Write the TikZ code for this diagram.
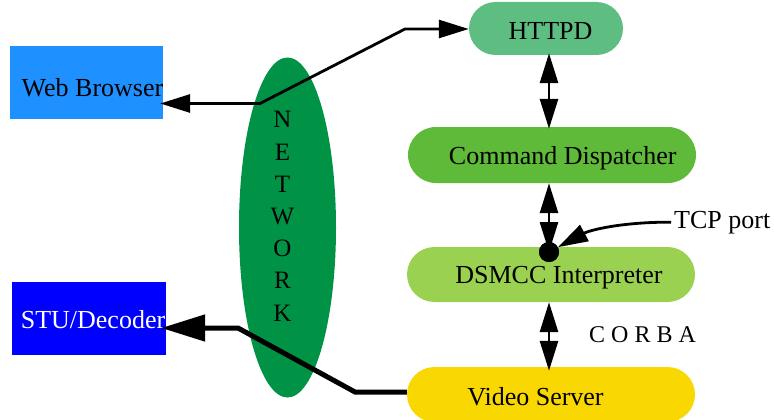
\documentclass[tikz,border=0pt]{standalone}
\usepackage{fontspec}
\setmainfont{Liberation Serif}
\usetikzlibrary{arrows.meta,calc,shapes.geometric}

\definecolor{netgreen}{RGB}{0,146,69}
\definecolor{webblue}{RGB}{30,144,255}
\definecolor{stublue}{RGB}{0,0,255}
\definecolor{httpdgreen}{RGB}{94,190,130}
\definecolor{cdgreen}{RGB}{94,186,56}
\definecolor{dsmccgreen}{RGB}{155,209,80}
\definecolor{videogold}{RGB}{249,215,0}

\begin{document}
\begin{tikzpicture}[x=1pt,y=-1pt,
  boxnode/.style={rectangle, draw=none, inner sep=0pt},
  pill/.style={rectangle, draw=none, inner sep=0pt, rounded corners=#1},
  txt/.style={inner sep=0pt, anchor=base, font=\fontsize{26}{30}\selectfont},
  netletter/.style={inner sep=0pt, anchor=base, font=\fontsize{25}{28}\selectfont},
  link/.style={line width=2.8pt, {Triangle[length=30pt,width=18pt]}-{Triangle[length=30pt,width=18pt]}},
  onelink/.style={line width=2.8pt, -{Triangle[length=30pt,width=18pt]}},
  heavylink/.style={line width=5pt, -{Triangle[length=44pt,width=26pt]}}
]
\useasboundingbox (0,0) rectangle (774,420);

% network cloud
\node[ellipse, fill=netgreen, minimum width=97pt, minimum height=340pt, inner sep=0pt] (net) at (287.5,227.5) {};
\foreach \ch [count=\i from 0] in {N,E,T,W,O,R,K}
  \node[netletter] (net\i) at (282.5,128+32.17*\i) {\ch};

% end systems
\node[boxnode, fill=webblue, minimum width=153.5pt, minimum height=73pt] (wb) at (86.25,82.5) {};
\node[txt] (wbtext) at (92.5,96) {Web Browser};
\node[boxnode, fill=stublue, minimum width=154pt, minimum height=73pt] (stu) at (89,318.5) {};
\node[txt, text=white] (stutext) at (93,328) {STU/Decoder};

% server side components
\node[pill=26.5pt, fill=httpdgreen, minimum width=154pt, minimum height=53pt] (httpd) at (546,28.5) {};
\node[txt] (httpdtext) at (550.5,40) {HTTPD};
\node[pill=28pt, fill=cdgreen, minimum width=288pt, minimum height=56pt] (cd) at (552,155) {};
\node[txt] (cdtext) at (562.7,164.3) {Command Dispatcher};
\node[pill=27.5pt, fill=dsmccgreen, minimum width=288pt, minimum height=55pt] (dsmcc) at (551,274.5) {};
\node[txt] (dsmcctext) at (559,283) {DSMCC Interpreter};
\node[pill=27.5pt, fill=videogold, minimum width=288pt, minimum height=55pt] (video) at (551,394.5) {};
\node[txt] (videotext) at (535.5,405) {Video Server};

% labels
\node[txt, anchor=base west] (tcp) at (674,228) {TCP port};
\node[inner sep=0pt, anchor=base west, font=\fontsize{24}{28}\selectfont] (corba) at (589,342) {C O R B A};

% routing points
\coordinate (vx) at (549,0);
\coordinate (wbk) at (260,103.5);
\coordinate (htk) at (405,29);
\coordinate (vsk) at (355,392);
\coordinate (stk) at (238,328);

% web browser <-> httpd across the network
\draw[link, shorten <=-3pt] (wb.east |- wbk) -- (wbk) -- (htk) -- (httpd.west |- htk);

% vertical chain
\draw[link, shorten <=-2pt, shorten >=-2pt] (httpd.south -| vx) -- (cd.north -| vx);
\node[circle, fill=black, inner sep=0pt, minimum size=20pt] (port) at (549,252) {};
\draw[link] (cd.south -| vx) -- (port.center);
\node[circle, fill=black, inner sep=0pt, minimum size=20pt] at (port) {};
\draw[link, shorten >=-4pt] (dsmcc.south -| vx) -- (video.north -| vx);

% tcp port pointer
\draw[onelink, shorten <=3pt] (tcp.west) .. controls (622,222) and (590,230) .. (port);

% video stream to the decoder
\draw[heavylink, shorten >=-5pt] (video.west |- vsk) -- (vsk) -- (stk) -- (stu.east |- stk);
\end{tikzpicture}
\end{document}
